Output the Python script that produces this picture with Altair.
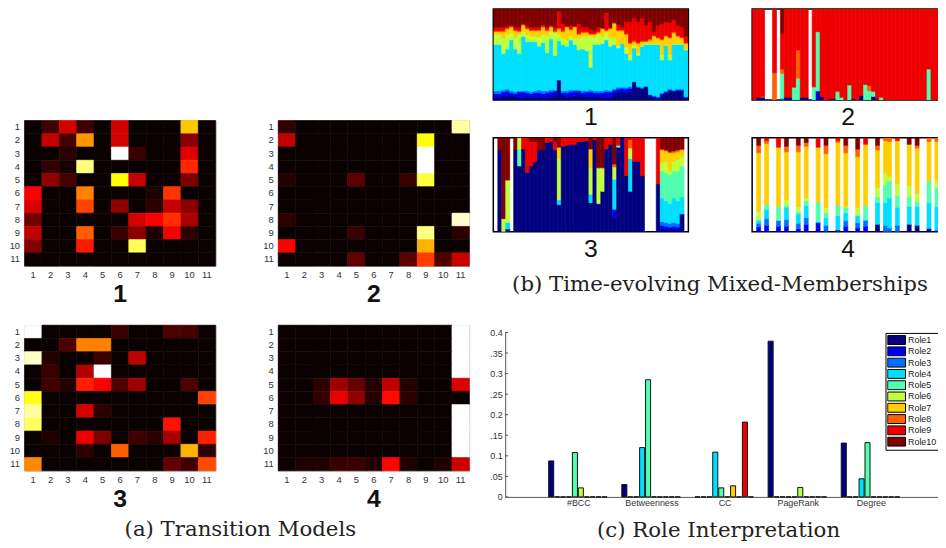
import altair as alt
import pandas as pd

ROLES = ["Role1","Role2","Role3","Role4","Role5","Role6","Role7","Role8","Role9","Role10"]
JET = ["#000080","#0000f0","#0070ff","#00dfff","#50ffaf","#bfff40","#ffcf00","#ff6000","#ef0000","#800000"]
SANS = "Liberation Sans"
SERIF = "DejaVu Serif"

# ---- (a) transition matrices, rows 1..11, columns 1..11
T1 = [
 [0,.08,.3,.08,0,.3,0,0,0,.65,0],
 [0,.28,.09,.58,0,.3,0,0,0,.19,0],
 [0,0,.05,0,0,1,.07,0,0,.32,0],
 [0,.06,.02,.86,0,0,0,0,0,.42,0],
 [0,.2,.09,0,0,.73,.28,0,0,.17,0],
 [.36,0,0,.55,0,0,0,.03,.44,0,0],
 [.31,0,0,.46,0,.2,0,.05,.28,.19,0],
 [.15,0,0,0,0,0,.3,.36,.43,.24,0],
 [.27,0,0,.5,0,.07,.19,.03,.35,.05,0],
 [.18,0,0,.4,0,0,.82,0,0,0,0],
 [0,0,0,0,0,0,0,0,0,0,0],
]
T2 = [
 [.06,0,0,0,0,0,0,0,0,0,.9],
 [.27,0,0,0,0,0,0,0,.73,0,0],
 [0,0,0,0,0,0,0,0,1,0,0],
 [0,0,0,0,0,0,0,0,1,0,0],
 [.04,0,0,0,.12,0,0,.07,.8,0,0],
 [0,0,0,0,0,0,0,0,0,0,0],
 [0,0,0,0,0,0,0,0,0,0,0],
 [.05,0,0,0,0,0,0,0,0,0,.95],
 [0,0,0,0,.07,0,0,0,.87,0,.05],
 [.36,0,0,0,0,0,0,0,.62,0,0],
 [0,0,0,0,.13,0,0,.12,.45,.1,.28],
]
T3 = [
 [1,0,0,0,0,.07,0,0,.1,.09,0],
 [0,0,.1,.55,.55,0,0,0,0,0,0],
 [.94,.04,0,0,.07,0,.27,0,0,0,0],
 [0,.07,0,.25,1,0,0,0,0,0,0],
 [0,.08,.04,.41,.36,.1,.22,0,0,.1,0],
 [.75,0,0,0,0,0,0,0,0,0,.46],
 [.9,0,0,.3,.05,0,0,0,0,0,0],
 [.83,0,0,0,0,0,0,0,.39,0,0],
 [0,.03,0,.34,.17,0,.08,.05,.23,0,.41],
 [0,0,0,.05,0,.5,0,0,0,.62,.05],
 [.56,0,0,0,0,0,0,0,.13,.08,.47],
]
T4 = [
 [0,0,0,0,0,0,0,0,0,0,1],
 [0,0,0,0,0,0,0,0,0,0,1],
 [0,0,0,0,0,0,0,0,0,0,1],
 [0,0,0,0,0,0,0,0,0,0,1],
 [0,0,.05,.22,.14,.04,.27,.04,0,0,.31],
 [0,0,.06,.33,.2,.04,.38,.05,0,0,0],
 [0,0,0,0,0,0,0,0,0,0,1],
 [0,0,0,0,0,0,0,0,0,0,1],
 [0,0,0,0,0,0,0,0,0,0,1],
 [0,0,0,0,0,0,0,0,0,0,1],
 [0,.03,.03,.07,.07,.04,.37,.03,0,.03,.29],
]

# ---- (b) memberships: cumulative top of each role per time step
P1_TOPS = [
 [.03,.03,.05,.05,.05,.04,.03,.03,.04,.03,.03,.04,.03,.03,.04,.05,.22,.05,.04,.04,.05,.06,.04,.04,.04,.03,.04,.04,.03,.03,.08,.08,.09,.08,.09,.2,.14,.13,.15,.05,.03,.02,.06,.08,.1,.09,.1,.1,.03],
 [.07,.07,.09,.1,.08,.07,.09,.09,.08,.07,.08,.08,.07,.08,.09,.1,.22,.08,.08,.09,.1,.1,.08,.09,.09,.08,.08,.08,.09,.09,.11,.12,.13,.12,.13,.2,.14,.13,.15,.06,.04,.03,.07,.09,.11,.1,.11,.11,.03],
 [.1,.1,.11,.12,.1,.09,.1,.1,.1,.09,.1,.11,.1,.1,.11,.11,.22,.1,.1,.11,.11,.11,.1,.1,.11,.1,.1,.1,.11,.1,.12,.14,.14,.14,.15,.2,.15,.14,.15,.06,.05,.04,.08,.1,.12,.11,.12,.12,.04],
 [.61,.61,.51,.56,.66,.56,.51,.7,.64,.64,.64,.59,.63,.52,.67,.49,.65,.61,.59,.66,.61,.55,.56,.54,.36,.61,.61,.62,.66,.59,.61,.57,.62,.51,.44,.57,.49,.59,.61,.61,.61,.61,.44,.6,.44,.61,.61,.61,.55],
 [.61,.61,.51,.56,.66,.56,.51,.7,.64,.64,.64,.59,.63,.52,.67,.49,.65,.61,.59,.66,.61,.55,.56,.54,.36,.61,.61,.62,.66,.59,.61,.57,.62,.51,.44,.57,.49,.59,.61,.61,.61,.61,.44,.6,.44,.61,.61,.61,.55],
 [.72,.72,.68,.72,.74,.69,.72,.75,.72,.7,.7,.69,.72,.71,.75,.74,.72,.68,.66,.7,.68,.68,.69,.7,.7,.69,.72,.7,.74,.69,.68,.6,.62,.58,.5,.6,.52,.6,.62,.62,.62,.62,.5,.61,.5,.62,.62,.62,.56],
 [.75,.75,.75,.78,.8,.76,.75,.82,.78,.76,.76,.76,.8,.76,.8,.75,.78,.75,.8,.77,.8,.72,.74,.74,.72,.72,.74,.78,.76,.78,.84,.76,.76,.72,.62,.64,.62,.64,.64,.66,.7,.68,.66,.7,.68,.74,.7,.68,.62],
 [.76,.76,.76,.79,.81,.77,.76,.83,.79,.77,.77,.77,.81,.77,.81,.76,.79,.76,.81,.78,.81,.73,.75,.75,.73,.73,.75,.79,.77,.79,.85,.77,.77,.73,.63,.65,.63,.65,.65,.67,.71,.69,.67,.71,.69,.75,.71,.69,.63],
 [.8,.8,.8,.81,.82,.8,.8,.84,.82,.8,.8,.8,.83,.8,.82,.8,.975,.84,.8,.82,.8,.84,.8,.8,.78,.76,.8,.79,.96,.8,.8,.83,.8,.86,.86,.9,.86,.9,.82,.86,.75,.82,.84,.86,.85,.88,.82,.8,.7],
 [1]*49,
]
RED = [(9, 1)]
P2_COLS = [
 RED,[(1,.03),(9,1)],[(1,.03),(8,.04),(9,1)],[],[],[(8,.3),(9,1)],[],
 [(3,.02),(5,.29),(8,.34),(9,.73),(10,1)],[(1,.03),(9,1)],[(1,.03),(9,1)],
 [(5,.14),(9,1)],[(5,.24),(8,.55),(9,1)],[(1,.03),(9,1)],[(1,.03),(9,1)],[],
 [(5,.14),(8,.15),(9,1)],[(1,.02),(2,.1),(5,.75),(9,1)],[(1,.04),(9,1)],RED,[(1,.01),(9,1)],
 [(1,.015),(9,1)],[(5,.09),(8,.1),(9,1)],[(5,.03),(9,1)],RED,[(5,.165),(9,1)],[(1,.015),(9,1)],RED,
 [(1,.05),(9,1)],[(5,.17),(9,1)],[(5,.1),(8,.16),(9,1)],[(1,.04),(5,.095),(9,1)],[(2,.01),(9,1)],[(5,.03),(9,1)],
 RED,RED,RED,RED,RED,RED,RED,RED,RED,RED,RED,[(5,.34),(9,1)],RED,RED,RED,RED,
]
P3_COLS = [
 [],[(1,.87),(10,1)],[(6,.14),(10,1)],[(1,.03),(4,.1),(6,.55),(10,1)],[],[(1,.87),(10,1)],
 [(1,.7),(5,.88),(6,1)],[(1,.88),(9,1)],[(1,.63),(9,1)],[(1,.7),(9,.96),(10,1)],[(1,.75),(9,.96),(10,1)],
 [(1,.87),(10,1)],[(1,.87),(10,1)],[(1,.95),(9,1)],[(1,.96),(9,1)],[(1,.87),(9,.96),(10,1)],
 [(1,.28),(2,.29),(4,.34),(6,.78),(7,.9),(10,1)],[(1,.91),(9,1)],[(1,.92),(9,1)],[(1,.93),(9,1)],[(1,.93),(9,1)],
 [(1,.96),(9,1)],[(1,.96),(9,1)],[(1,.97),(9,1)],[(1,.31),(4,.4),(6,.68),(7,.88),(10,1)],[(1,.98),(9,1)],
 [(1,.29),(2,.3),(6,.68),(10,1)],[(1,.43),(6,.68),(10,1)],[(1,.88),(9,1)],[(1,.93),(9,1)],
 [(1,.15),(2,.24),(4,.56),(6,.69),(8,.72),(10,1)],[(1,.9),(5,.92),(9,1)],[(1,1)],[(1,.6),(9,1)],
 [(1,.43),(4,.78),(6,.89),(8,.98),(9,1)],[(1,.75),(9,1)],[(1,.75),(9,1)],[(1,.6),(9,1)],[],[],[],[(1,.51),(9,1)],
 [(1,.03),(2,.07),(3,.11),(4,.36),(5,.65),(6,.74),(7,.87),(8,.88),(10,1)],
 [(1,.02),(2,.06),(3,.1),(4,.33),(5,.63),(6,.75),(7,.86),(8,.87),(10,1)],
 [(1,.02),(2,.05),(3,.09),(4,.3),(5,.61),(6,.65),(7,.84),(8,.85),(10,1)],
 [(1,.03),(2,.06),(3,.1),(4,.36),(5,.65),(6,.75),(7,.84),(8,.86),(10,1)],
 [(1,.02),(2,.05),(3,.09),(4,.33),(5,.65),(6,.77),(7,.85),(8,.87),(10,1)],
 [(1,.19),(4,.37),(5,.7),(6,.8),(7,.87),(8,.88),(10,1)],[],
]
P4_COLS = {
 1:[(2,.05),(3,.09),(4,.12),(5,.13),(6,.22),(7,.84),(8,.92),(10,1)],
 3:[(2,.07),(3,.14),(4,.24),(5,.29),(7,.94),(8,.97),(9,1)],
 6:[(2,.06),(3,.12),(5,.27),(7,.9),(9,1)],
 8:[(2,.06),(3,.13),(4,.26),(5,.28),(6,.34),(7,.85),(8,.91),(10,1)],
 11:[(2,.03),(3,.09),(4,.19),(5,.21),(6,.27),(7,.85),(8,.92),(10,1)],
 13:[(2,.08),(3,.15),(4,.28),(5,.33),(6,.36),(7,.91),(8,.95),(10,1)],
 16:[(1,.02),(2,.1),(4,.11),(5,.32),(7,.9),(9,1)],
 18:[(1,.01),(3,.07),(4,.15),(5,.2),(6,.26),(7,.83),(8,.92),(10,1)],
 21:[(1,.01),(2,.02),(4,.17),(5,.28),(7,.95),(8,.97),(9,1)],
 23:[(2,.06),(3,.12),(4,.2),(5,.26),(6,.27),(7,.84),(8,.92),(10,1)],
 26:[(2,.04),(3,.1),(4,.17),(5,.18),(6,.26),(7,.8),(8,.88),(10,1)],
 28:[(2,.06),(3,.12),(4,.13),(5,.28),(7,.93),(9,1)],
 31:[(1,.08),(4,.31),(5,.37),(6,.47),(7,.87),(8,.92),(10,1)],
 33:[(3,.07),(4,.31),(5,.5),(6,.63),(7,.97),(8,1)],
 34:[(3,.04),(4,.36),(5,.54),(6,.59),(7,.96),(8,1)],
 36:[(3,.07),(4,.26),(5,.38),(6,.51),(7,.97),(9,1)],
 39:[(1,.08),(4,.27),(5,.37),(6,.49),(7,.93),(10,1)],
 41:[(1,.07),(4,.27),(5,.32),(6,.41),(7,.89),(8,.92),(10,1)],
 44:[(1,.03),(3,.04),(4,.31),(5,.54),(7,.96),(8,1)],
 46:[(1,.01),(3,.02),(4,.27),(5,.47),(6,.55),(7,.96),(8,1)],
}

# ---- (c) role interpretation
FEATURES = ["#BCC","Betweenness","CC","PageRank","Degree"]
BARS = {
 "#BCC":        [.0875,0,0,0,.108,.022,0,0,0,0],
 "Betweenness": [.03,0,0,.12,.285,0,0,0,0,0],
 "CC":          [0,0,0,.109,.022,0,.027,0,.182,0],
 "PageRank":    [.379,0,0,0,0,.023,0,0,0,0],
 "Degree":      [.131,0,0,.044,.132,0,0,0,0,0],
}
Y_TICKS = [0,.05,.1,.15,.2,.25,.3,.35,.4]

HEAT_W, HEAT_H = 193, 147
STACK_H1, STACK_H2 = 92, 95
CAPTION = 21.5
role_scale = alt.Scale(domain=ROLES, range=JET)
hot_scale = alt.Scale(domain=[0, .365, .73, 1], range=["#0a0000", "#ff0000", "#ffff00", "#ffffff"],
                      interpolate="rgb")


def heat(matrix, label):
    rows = [{"r": r + 1, "c": c + 1, "v": v} for r, row in enumerate(matrix) for c, v in enumerate(row)]
    order = list(range(1, 12))
    return alt.Chart(pd.DataFrame(rows)).mark_rect(strokeWidth=0.6).encode(
        x=alt.X("c:O", sort=order, scale=alt.Scale(paddingInner=0, paddingOuter=0),
                axis=alt.Axis(title=None, labelAngle=0, domain=False, ticks=False, labelPadding=4,
                              labelFont=SANS, labelFontSize=9.5, labelColor="#333")),
        y=alt.Y("r:O", sort=order, scale=alt.Scale(paddingInner=0, paddingOuter=0),
                axis=alt.Axis(title=None, domain=False, ticks=False, labelPadding=5,
                              labelFont=SANS, labelFontSize=9.5, labelColor="#333")),
        color=alt.Color("v:Q", legend=None, scale=hot_scale),
        stroke=alt.Stroke("v:Q", legend=None, scale=hot_scale),
    ).properties(width=HEAT_W, height=HEAT_H,
                 view=alt.ViewBackground(stroke="#888", strokeWidth=0.8),
                 title=alt.TitleParams(label, orient="bottom", font=SANS, fontWeight="bold",
                                       fontSize=25, color="#111", offset=3))


def stack_frame(cols):
    rows = []
    for i, col in enumerate(cols):
        prev = 0
        for role, top in col:
            if top > prev:
                rows.append({"i": i, "i2": i + 1, "y0": prev, "y1": top, "role": ROLES[role - 1]})
                prev = top
    return pd.DataFrame(rows)


def stack(cols, label, height, domain_end):
    return alt.Chart(stack_frame(cols)).mark_rect(clip=True, strokeWidth=0.7).encode(
        x=alt.X("i:Q", axis=None, scale=alt.Scale(domain=[-.15, domain_end], nice=False, zero=False)),
        x2="i2:Q",
        y=alt.Y("y0:Q", axis=None, scale=alt.Scale(domain=[0, 1], nice=False)),
        y2="y1:Q",
        color=alt.Color("role:N", scale=role_scale, legend=None),
        stroke=alt.Stroke("role:N", scale=role_scale, legend=None),
    ).properties(width=round((domain_end + .15) * 4), height=height,
                 view=alt.ViewBackground(stroke="#000", strokeWidth=1.5),
                 title=alt.TitleParams(label, orient="bottom", font=SANS, fontWeight="normal",
                                       fontSize=25, color="#111", offset=5))


def spacer(w, h):
    return alt.Chart(pd.DataFrame({"s": [0]})).mark_rect(opacity=0).encode(
        x=alt.value(0), x2=alt.value(1), y=alt.value(0), y2=alt.value(1)).properties(width=w, height=h)


def indep(c):
    return c.resolve_scale(color="independent", stroke="independent").resolve_legend(color="independent")


p1_cols = [[(r + 1, P1_TOPS[r][i]) for r in range(10)] for i in range(49)]
p4_cols = [P4_COLS.get(i, []) for i in range(49)]

# bar chart
rows = []
for f, name in enumerate(FEATURES):
    for r, v in enumerate(BARS[name]):
        rows.append({"l": f + 1 + (r - 5) * 6 / 74, "u": f + 1 + (r - 4.15) * 6 / 74,
                     "v": v, "base": 0, "Role": ROLES[r]})
bar_df = pd.DataFrame(rows)
labels_js = "[" + ",".join(f"'{n}'" for n in FEATURES) + "]"
y_expr = ("length(format(datum.value,'.2~f'))>3 ? slice(format(datum.value,'.2f'),1)"
          " : format(datum.value,'.2~f')")
y_scale = alt.Scale(domain=[0, .4], nice=False)
y_axis = alt.Axis(title=None, values=Y_TICKS, labelExpr=y_expr, grid=False, ticks=False,
                  labelPadding=3, domainColor="#555",
                  labelFont=SANS, labelFontSize=9, labelColor="#333")
bars = alt.Chart(bar_df).mark_rect(stroke="#111", strokeWidth=1).encode(
    x=alt.X("l:Q", scale=alt.Scale(domain=[0, 5.97], nice=False, zero=False),
            axis=alt.Axis(title=None, values=[1, 2, 3, 4, 5], labelExpr=labels_js + "[datum.value-1]",
                          grid=False, ticks=False, labelPadding=2, domainColor="#555",
                          labelFont=SANS, labelFontSize=9, labelColor="#333", labelFlush=False)),
    x2="u:Q",
    y=alt.Y("v:Q", scale=y_scale, axis=y_axis),
    y2="base:Q",
    color=alt.Color("Role:N", scale=role_scale,
                    legend=alt.Legend(orient="none", legendX=384.1, legendY=0.4, title=None,
                                      symbolType="M-1,-1H3V1H-1Z", symbolSize=81,
                                      symbolStrokeColor="#000", symbolStrokeWidth=1, symbolOpacity=1,
                                      labelFont=SANS, labelFontSize=9, labelColor="#222",
                                      labelOffset=11, rowPadding=0.4, clipHeight=11, padding=1.7,
                                      fillColor="white", strokeColor="#000")),
)
y_marks = alt.Chart(pd.DataFrame({"t": Y_TICKS})).mark_rule(color="#555").encode(
    y=alt.Y("t:Q", scale=y_scale, axis=y_axis), x=alt.value(0), x2=alt.value(3))
bar_chart = alt.layer(y_marks, bars).properties(
    width=441, height=166,
    title=alt.TitleParams("(c) Role Interpretation", orient="bottom", font=SERIF, dx=-5,
                          fontWeight="normal", fontSize=CAPTION, color="#222", offset=12.2))

left = indep(alt.vconcat(
    spacer(10, 94.5),
    indep(alt.hconcat(heat(T1, "1"), heat(T2, "2"), spacing=46.2)),
    indep(alt.hconcat(heat(T3, "3"), heat(T4, "4"), spacing=46.2)),
    spacing=16.7,
).properties(title=alt.TitleParams("(a) Transition Models", orient="bottom", anchor="middle", font=SERIF, dx=1,
                                   fontWeight="normal", fontSize=CAPTION, color="#222", offset=7.2)))

stacks = indep(alt.vconcat(
    indep(alt.hconcat(stack(p1_cols, "1", STACK_H1, 49.1), stack(P2_COLS, "2", STACK_H1, 48.35), spacing=62.4)),
    indep(alt.hconcat(stack(P3_COLS, "3", STACK_H2, 49.1), stack(p4_cols, "4", STACK_H2, 48.35), spacing=62.4)),
    spacing=6.1,
).properties(title=alt.TitleParams("(b) Time-evolving Mixed-Memberships", orient="bottom", anchor="middle", dx=1.2,
                                   font=SERIF, fontWeight="normal", fontSize=CAPTION, color="#222", offset=11.7)))

right = indep(alt.vconcat(
    indep(alt.hconcat(spacer(4, 1), stacks, spacing=0)),
    indep(alt.hconcat(spacer(1, 1), bar_chart, spacing=0)),
    spacing=32.8))

chart = indep(alt.hconcat(left, right, spacing=18.4)).properties(
    padding={"left": 0.7, "top": -2.7, "right": -7.5, "bottom": -2.5},
).configure_view(stroke=None).configure_concat(spacing=0)

chart.save("out.html", embed_options={"renderer": "svg", "actions": False})
